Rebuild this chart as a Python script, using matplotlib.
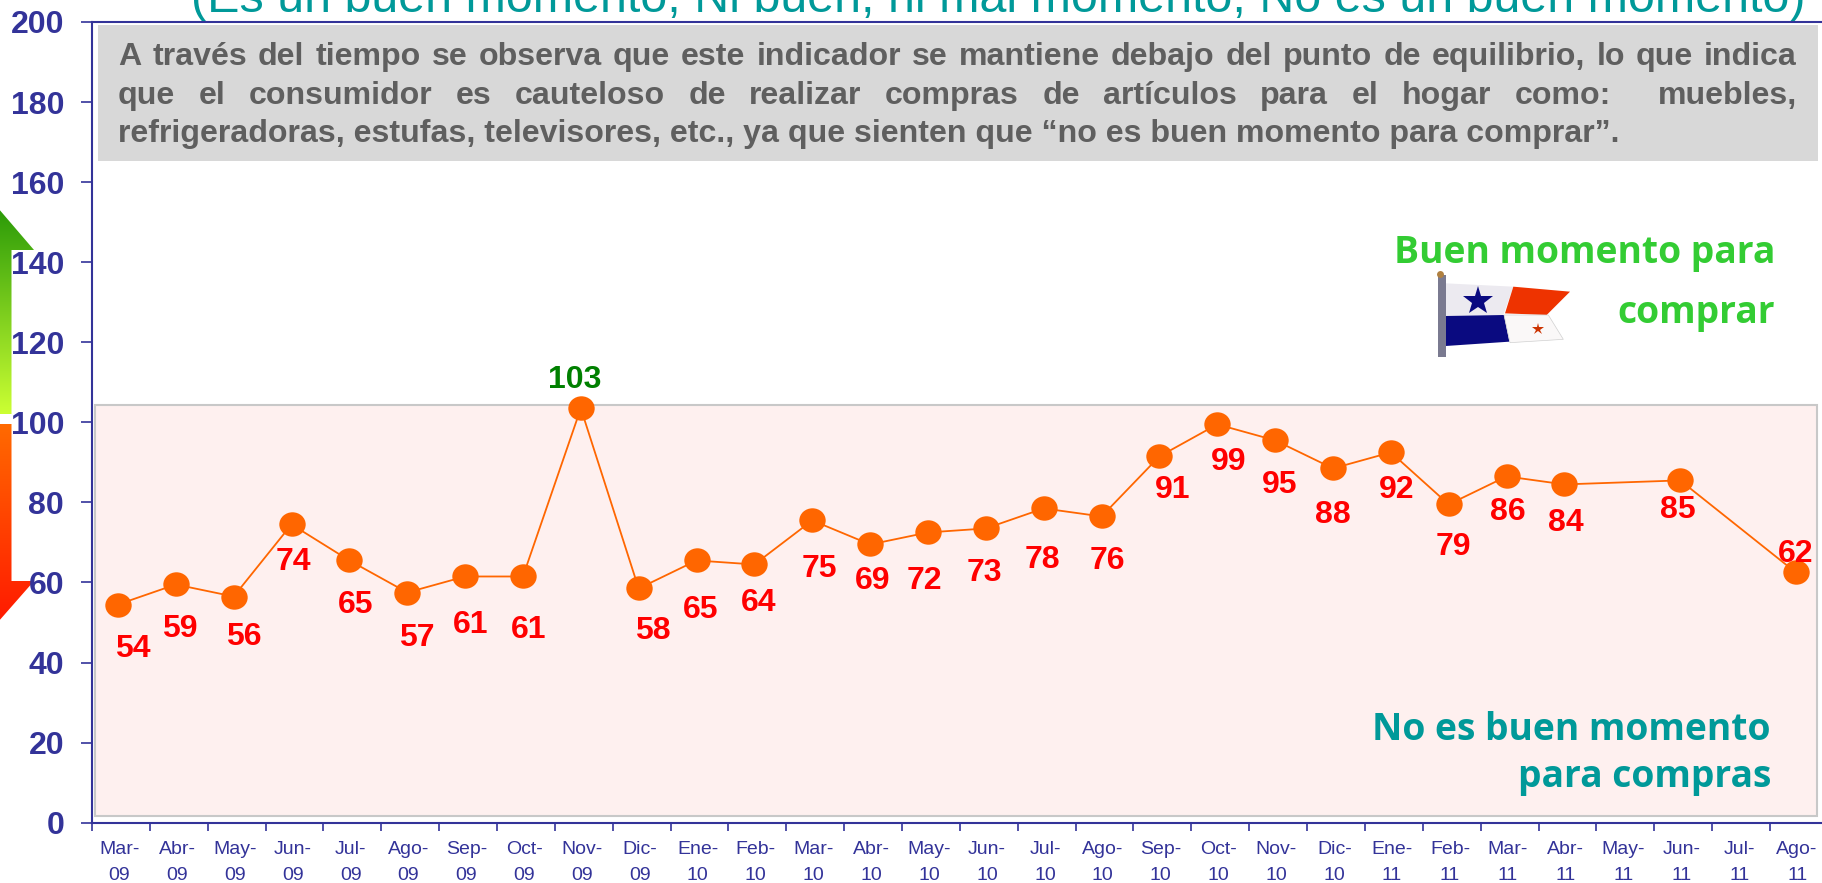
import numpy as np
import matplotlib
matplotlib.use("Agg")
import matplotlib.pyplot as plt
from matplotlib.colors import LinearSegmentedColormap
from matplotlib.patches import Polygon, Rectangle
from matplotlib.path import Path
from matplotlib.transforms import ScaledTranslation, Affine2D

months = ["Mar-\n09","Abr-\n09","May-\n09","Jun-\n09","Jul-\n09","Ago-\n09","Sep-\n09","Oct-\n09","Nov-\n09","Dic-\n09",
          "Ene-\n10","Feb-\n10","Mar-\n10","Abr-\n10","May-\n10","Jun-\n10","Jul-\n10","Ago-\n10","Sep-\n10","Oct-\n10",
          "Nov-\n10","Dic-\n10","Ene-\n11","Feb-\n11","Mar-\n11","Abr-\n11","May-\n11","Jun-\n11","Jul-\n11","Ago-\n11"]
values = [54,59,56,74,65,57,61,61,103,58,65,64,75,69,72,73,78,76,91,99,95,88,92,79,86,84,None,85,None,62]
# label offsets from the marker, in pixels of the 1568-wide preview
label_dx = [12.5,3.7,9,2,5.3,8.5,4.7,5,-5,12.3,3.5,3.7,6,2,-2.7,-1.5,-1.3,5,11,10,3.5,0,5,4,1,1.5,0,-2,0,0]
label_dy = [35.7,35,31.6,29.6,35.6,36,39,43,-27.5,33.5,39.6,30,39,28.4,38.7,35,41,35.5,26,29,35,37,29.6,34,28,30,0,22.5,0,-18.7]
yticks = list(range(0, 201, 20))

W, H = 1822, 883
NAVY = "#333399"
ORANGE = "#FF6600"
ARIAL = "Liberation Sans"
HUM = "Open Sans"
fig = plt.figure(figsize=(W/100, H/100), dpi=100, facecolor="white")

# background layer in pixel coordinates
bg = fig.add_axes([0, 0, 1, 1], zorder=0)
bg.set_xlim(0, W); bg.set_ylim(H, 0); bg.axis("off")
bg.add_patch(Rectangle((95, 405), 1722, 411, fc="#FEF0EF", ec="#C8C8C8", lw=1.5))
bg.add_patch(Rectangle((98, 25), 1720, 136, fc="#D8D8D8", ec="none"))

def grad_arrow(pts, c0, c1, y0, y1):
    cm = LinearSegmentedColormap.from_list("g", [c0, c1])
    im = bg.imshow(np.linspace(0, 1, 256)[:, None], cmap=cm, extent=(-2, 40, y1, y0), aspect="auto", zorder=1)
    poly = Polygon(pts, closed=True, transform=bg.transData, fc="none", ec="none")
    bg.add_patch(poly)
    im.set_clip_path(poly)
grad_arrow([(-2,208),(34,250),(11.5,250),(11.5,414),(-2,414)], "#2A9A08", "#CCFF33", 208, 414)
grad_arrow([(-2,424),(11.5,424),(11.5,581),(34,581),(-2,622)], "#FF6A00", "#FF1A00", 424, 622)
bg.set_xlim(0, W); bg.set_ylim(H, 0)

# title, clipped by the top of the picture
bg.text(191, 12, "(Es un buen momento, Ni buen, ni mal momento, No es un buen momento)",
        family=ARIAL, fontsize=34.8, color="#009999", ha="left", va="baseline", zorder=3, clip_on=False)

# justified comment
renderer = fig.canvas.get_renderer()
comment = [("A través del tiempo se observa que este indicador se mantiene debajo del punto de equilibrio, lo que indica", 65, True),
           ("que el consumidor es cauteloso de realizar compras de artículos para el hogar como:  muebles,", 104, True),
           ("refrigeradoras, estufas, televisores, etc., ya que sienten que “no es buen momento para comprar”.", 142, False)]
def measure(s):
    t = bg.text(0, 0, s, family=ARIAL, fontsize=CF, fontweight="bold")
    w = t.get_window_extent(renderer).width
    t.remove()
    return w
CF = 23.1
L, R = 118, 1797
for line, y, just in comment:
    if just:
        tokens = line.split(" ")
        words = [w for w in tokens if w]
        gap = (R - L - sum(measure(w) for w in words)) / (len(tokens) - 1)
        x = L
        for w in tokens:
            if w:
                bg.text(x, y, w, family=ARIAL, fontsize=CF, fontweight="bold", color="#5F5F5F", va="baseline", zorder=3)
                x += measure(w)
            x += gap
    else:
        bg.text(L, y, line, family=ARIAL, fontsize=CF, fontweight="bold", color="#5F5F5F", va="baseline", zorder=3)

# zone captions
cap = dict(family=HUM, fontsize=26.8, fontweight="bold", ha="right", va="baseline", zorder=3)
bg.text(1775, 263, "Buen momento para", color="#33CC33", **cap)
bg.text(1775, 323, "comprar", color="#33CC33", **cap)
bg.text(1771, 740, "No es buen momento", color="#009999", **cap)
bg.text(1771, 787, "para compras", color="#009999", **cap)

# flag
def F(*p):
    return [(1300 + x/3, y/3) for x, y in p]
bg.add_patch(Polygon(F((437,850),(640,860),(610,945),(437,948)), fc="#ECEAF0", ec="none", zorder=2))
bg.add_patch(Polygon(F((640,860),(810,875),(740,945),(615,940)), fc="#EE3300", ec="none", zorder=2))
bg.add_patch(Polygon(F((437,948),(612,945),(628,1025),(437,1038)), fc="#0A0A80", ec="none", zorder=2))
bg.add_patch(Polygon(F((612,945),(745,945),(790,1018),(630,1028)), fc="#FAF8F8", ec="#D0D0D0", lw=0.5, zorder=2))
bg.add_patch(Polygon(F((415,825),(437,825),(437,1072),(415,1072)), fc="#7A7A90", ec="none", zorder=2))
sx, sy = F((535,902))[0]
bg.plot([sx], [sy], marker="*", ms=22, color="#0A0A80", mew=0, zorder=3)
sx, sy = F((715,988))[0]
bg.plot([sx], [sy], marker="*", ms=9, color="#CC3300", mew=0, zorder=3)
sx, sy = F((421,823))[0]
bg.plot([sx], [sy], marker="o", ms=5, color="#B08040", mew=0, zorder=3)
bg.set_xlim(0, W); bg.set_ylim(H, 0)

# chart
step = 57.86
ax = fig.add_axes([92/W, 1 - 822.7/H, step*30/W, (822.7-22)/H], zorder=1)
ax.patch.set_alpha(0)
ax.set_xlim(0, 30); ax.set_ylim(0, 200)
for s in ax.spines.values():
    s.set_color(NAVY); s.set_linewidth(1.5)
ax.set_yticks(yticks)
ax.set_yticklabels([str(v) for v in yticks], family=ARIAL, fontsize=23, fontweight="bold", color=NAVY)
ax.tick_params(axis="y", length=8, width=1.2, color=NAVY, pad=12)
ax.set_xticks(np.arange(0, 31))
ax.set_xticklabels([])
ax.tick_params(axis="x", which="major", length=5.5, width=1.2, color=NAVY)
ax.set_xticks(np.arange(30) + 0.47, minor=True)
ax.set_xticklabels(months, minor=True, family=ARIAL, fontsize=14, color=NAVY, linespacing=1.7)
ax.tick_params(axis="x", which="minor", length=0, pad=13)

xs = [i + 0.5 for i, v in enumerate(values) if v is not None]
ys = [v for v in values if v is not None]
shift = ScaledTranslation(-3/100, 2/100, fig.dpi_scale_trans)
marker = Path.unit_circle().transformed(Affine2D().scale(1.08, 1))
ax.plot(xs, ys, color=ORANGE, lw=1.3, marker=marker, ms=19, mfc=ORANGE, mec=ORANGE, mew=0,
        transform=ax.transData + shift, clip_on=False, zorder=3)
k = 1822/1568*72/100
for i, v in enumerate(values):
    if v is None:
        continue
    ax.annotate(str(v), (i + 0.5, v), xycoords=ax.transData + shift,
                xytext=(label_dx[i]*k, -(label_dy[i] + 3)*k), textcoords="offset points",
                ha="center", va="center", family=ARIAL, fontsize=23, fontweight="bold",
                color="#008000" if v > 100 else "#FF0000", zorder=4, annotation_clip=False)

fig.savefig("out.png", dpi=100)
